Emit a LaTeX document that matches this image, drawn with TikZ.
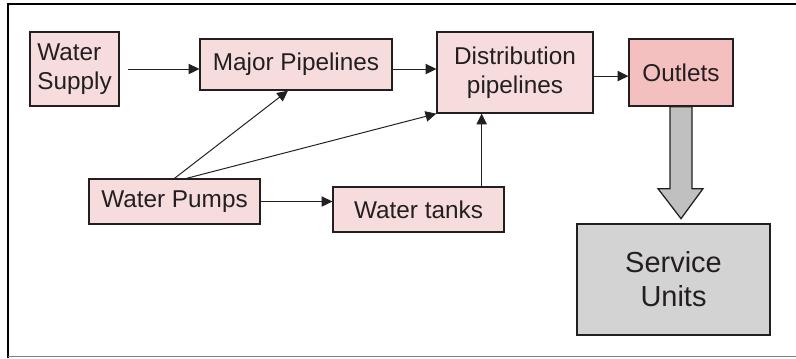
\documentclass[tikz,border=0pt]{standalone}
\usepackage{fontspec}
\setmainfont{Liberation Sans}
\usetikzlibrary{arrows.meta}
\definecolor{boxpink}{HTML}{F6DCDC}
\definecolor{outletpink}{HTML}{F4C0BF}
\definecolor{unitgray}{HTML}{D3D3D3}
\definecolor{arrowgray}{HTML}{C0C0C0}
\definecolor{inkgray}{HTML}{231F20}
\tikzset{
  block/.style={draw=inkgray, line width=0.9pt, fill=boxpink, text=inkgray, inner sep=0pt,
    align=center, font=\fontsize{17.3}{20.6}\selectfont},
  link/.style={draw=inkgray, line width=0.7pt, -{Triangle[length=0.27cm,width=0.26cm]}}
}
\begin{document}
\begin{tikzpicture}[x=0.025cm, y=-0.025cm]
\useasboundingbox (0,0) rectangle (796,358);
\draw[black, line width=2.1pt] (8,358) -- (8,4) -- (796,4);
\draw[gray, line width=0.8pt] (8,356.5) -- (796,356.5);
\node[block, minimum width=2.225cm, minimum height=1.85cm, align=left] (supply) at (74.5,69) {Water\\Supply};
\node[block, minimum width=4.8cm, minimum height=1.275cm] (major) at (296,64.5) {Major Pipelines};
\node[block, minimum width=3.9cm, minimum height=2.025cm] (dist) at (515,72.5) {Distribution\\pipelines};
\node[block, fill=outletpink, minimum width=2.6cm, minimum height=1.675cm] (outlets) at (681,72.5) {Outlets};
\node[block, minimum width=4.275cm, minimum height=1.125cm] (pumps) at (174.5,201.5) {Water Pumps};
\node[block, minimum width=4.275cm, minimum height=1.125cm] (tanks) at (418.5,209.5) {Water tanks};
\node[block, fill=unitgray, minimum width=4.825cm, minimum height=2.775cm,
  font=\fontsize{20.6}{24.1}\selectfont] (units) at (673.5,279.5) {Service\\Units};
\draw[link, shorten <=0.2cm] (supply.east) -- (supply.east -| major.west);
\draw[link] (major.east |- supply.east) -- (dist.west |- supply.east);
\draw[link] ([yshift=-0.09cm]dist.east) -- ([yshift=-0.09cm]outlets.west);
\draw[link] (pumps.north) -- ([xshift=-0.2cm]major.south);
\draw[link] ([xshift=0.3cm]pumps.north) -- (dist.south west);
\draw[link] (pumps.east) -- (pumps.east -| tanks.west);
\draw[link] ([xshift=-0.575cm]tanks.north east) -- ([xshift=-0.575cm]tanks.north east |- dist.south);
\draw[draw=inkgray, line width=0.9pt, fill=arrowgray, shift={(outlets.south)}]
  (-11,0) -- (-11,82) -- (-23,82) -- (0,112) -- (22,82) -- (11,82) -- (11,0) -- cycle;
\end{tikzpicture}
\end{document}
